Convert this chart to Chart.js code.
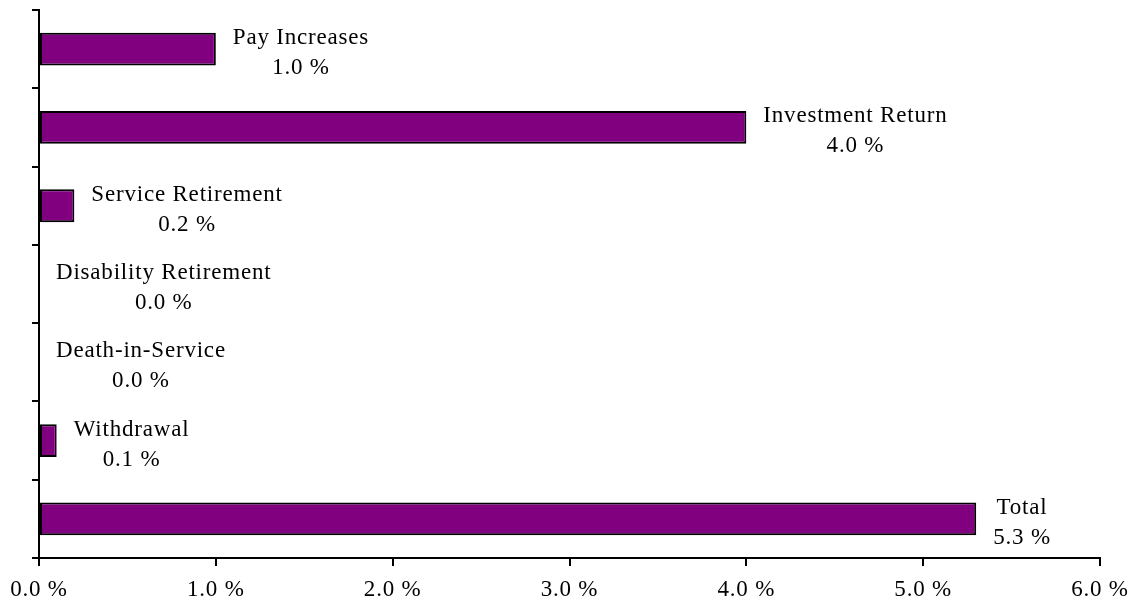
<!DOCTYPE html>
<html>
<head>
<meta charset="utf-8">
<script src="https://cdn.jsdelivr.net/npm/chart.js@4"></script>
<style>
	html, body { margin: 0; padding: 0; background: #fff; }
	#wrap { width: 1137px; height: 605px; }
</style>
</head>
<body>
<div id="wrap"><canvas id="gainChart"></canvas></div>
<script>
'use strict';

// 항목별 손익 (%)
const categories = ['Pay Increases', 'Investment Return', 'Service Retirement', 'Disability Retirement', 'Death-in-Service', 'Withdrawal', 'Total'];
const values = [1.0, 4.0, 0.2, 0.0, 0.0, 0.1, 5.3];
const xTicks = [0, 1, 2, 3, 4, 5, 6];

const FONT = '"Liberation Serif", "Times New Roman", serif';

// 막대 옆 라벨 (항목명 + 값)
const barLabelPlugin = {
	id: 'barLabels',
	afterDatasetsDraw(chart) {
		const ctx = chart.ctx;
		const meta = chart.getDatasetMeta(0);
		ctx.save();
		ctx.font = '23px ' + FONT;
		ctx.fillStyle = '#000';
		ctx.textAlign = 'center';
		ctx.textBaseline = 'middle';
		ctx.letterSpacing = '0.8px';
		meta.data.forEach((bar, i) => {
			const name = categories[i];
			const val = values[i].toFixed(1) + ' %';
			const w = Math.max(ctx.measureText(name).width, ctx.measureText(val).width);
			const cx = bar.x + 17 + w / 2;
			ctx.fillText(name, cx, bar.y - 11);
			ctx.fillText(val, cx, bar.y + 19);
		});
		ctx.restore();
	}
};

// 축 글자 간격
const spacingPlugin = {
	id: 'spacing',
	beforeDraw(chart) {
		chart.ctx.letterSpacing = '0.8px';
	}
};

new Chart(document.getElementById('gainChart'), {
	type: 'bar',
	data: {
		labels: categories,
		datasets: [{
			data: values,
			backgroundColor: '#800080',
			borderColor: '#000',
			borderWidth: 2,
			borderSkipped: false,
			categoryPercentage: 1,
			barPercentage: 0.42
		}]
	},
	options: {
		indexAxis: 'y',
		responsive: true,
		maintainAspectRatio: false,
		animation: false,
		layout: {
			padding: { top: 10, right: 37, left: 0, bottom: 0 }
		},
		plugins: {
			legend: { display: false },
			tooltip: { enabled: false },
			title: { display: false }
		},
		scales: {
			x: {
				min: 0,
				max: 6,
				afterBuildTicks(axis) {
					axis.ticks = xTicks.map(v => ({ value: v }));
				},
				afterFit(axis) {
					axis.height = 47;
				},
				border: { color: '#000', width: 2 },
				grid: {
					drawOnChartArea: false,
					drawTicks: true,
					tickLength: 8,
					color: '#000',
					lineWidth: 2
				},
				ticks: {
					color: '#000',
					font: { family: FONT, size: 23 },
					padding: 10,
					maxRotation: 0,
					callback: v => v.toFixed(1) + ' %'
				}
			},
			y: {
				afterFit(axis) {
					axis.width = 39;
				},
				border: { color: '#000', width: 2 },
				grid: {
					drawOnChartArea: false,
					drawTicks: true,
					tickLength: 7,
					color: '#000',
					lineWidth: 2,
					offset: true
				},
				ticks: { display: false }
			}
		}
	},
	plugins: [spacingPlugin, barLabelPlugin]
});
</script>
</body>
</html>
